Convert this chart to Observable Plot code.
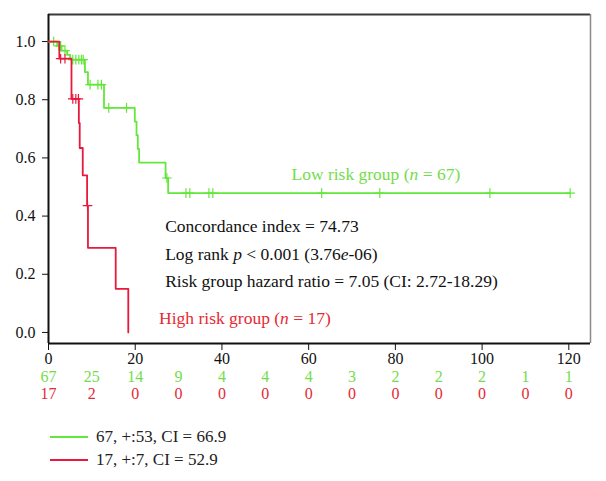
<!DOCTYPE html>
<html>
<head>
<meta charset="utf-8">
<script src="https://cdn.jsdelivr.net/npm/d3@7"></script>
<script src="https://cdn.jsdelivr.net/npm/@observablehq/plot@0.6"></script>
<style>
  html, body { margin: 0; padding: 0; background: white; }
  #wrap { width: 606px; height: 481px; position: relative; font-family: 'Liberation Serif', serif; }
  .leg { position: absolute; left: 50px; display: flex; align-items: center; font-size: 17px; color: #222; }
  .leg span.sw { display: inline-block; width: 38px; height: 0; border-top: 2px solid; margin-right: 8px; }
</style>
</head>
<body>
<div id="wrap"></div>
<script>
// ---- data ----
const lowTimes = [0, 2.0, 3.0, 4.3, 5.0, 8.4, 9.1, 12.8, 19.9, 20.3, 20.6, 20.9, 27.0, 27.6, 120.3];
const lowSurv  = [1.0, 0.985, 0.969, 0.954, 0.938, 0.895, 0.852, 0.772, 0.725, 0.678, 0.631, 0.584, 0.531, 0.479, 0.479];
const lowCensorTimes = [1.2, 2.4, 2.8, 3.8, 5.6, 6.3, 7.0, 7.6, 8.0, 9.6, 11.4, 12.2, 13.9, 18.0, 27.3, 31.7, 32.6, 37.0, 37.9, 63.0, 76.4, 101.8, 120.3];
const lowCensorSurv  = [1.0, 0.985, 0.985, 0.969, 0.938, 0.938, 0.938, 0.938, 0.938, 0.852, 0.852, 0.852, 0.772, 0.772, 0.531, 0.479, 0.479, 0.479, 0.479, 0.479, 0.479, 0.479, 0.479];

const highTimes = [0, 2.5, 5.3, 7.0, 7.2, 7.9, 8.9, 9.1, 15.5, 18.4];
const highSurv  = [1.0, 0.941, 0.803, 0.72, 0.634, 0.54, 0.436, 0.291, 0.150, 0.0];
const highCensorTimes = [2.8, 3.8, 5.6, 6.3, 6.9, 9.0];
const highCensorSurv  = [0.941, 0.941, 0.803, 0.803, 0.803, 0.436];

const xTicks = [0, 20, 40, 60, 80, 100, 120];
const yTicks = [0, 0.2, 0.4, 0.6, 0.8, 1.0];
const xDomain = [0, 125];
const yDomain = [-0.038, 1.093];

const riskTimes = [0, 10, 20, 30, 40, 50, 60, 70, 80, 90, 100, 110, 120];
const riskLow  = [67, 25, 14, 9, 4, 4, 4, 3, 2, 2, 2, 1, 1];
const riskHigh = [17, 2, 0, 0, 0, 0, 0, 0, 0, 0, 0, 0, 0];

const statLabels = [
  "Concordance index = 74.73",
  "Log rank p < 0.001 (3.76e-06)",
  "Risk group hazard ratio = 7.05 (CI: 2.72-18.29)"
];
const lowLabel = "Low risk group (n = 67)";
const highLabel = "High risk group (n = 17)";
const legendLabels = ["67, +:53, CI = 66.9", "17, +:7, CI = 52.9"];

// ---- styles ----
const GREEN = "#62e83a";
const GREEN_TXT = "#74dc4c";
const RED = "#e8193c";
const RED_TXT = "#e42a34";

const low = lowTimes.map((t, i) => ({t, s: lowSurv[i]}));
const high = highTimes.map((t, i) => ({t, s: highSurv[i]}));
const lowC = lowCensorTimes.map((t, i) => ({t, s: lowCensorSurv[i]}));
const highC = highCensorTimes.map((t, i) => ({t, s: highCensorSurv[i]}));
const riskL = riskTimes.map((t, i) => ({t, n: riskLow[i]}));
const riskH = riskTimes.map((t, i) => ({t, n: riskHigh[i]}));
const stats = statLabels.map((label, i) => ({label, t: 26.9, s: [0.364, 0.270, 0.177][i]}));

const plot = Plot.plot({
  width: 606, height: 418,
  marginLeft: 48, marginRight: 16, marginTop: 14, marginBottom: 75,
  style: {fontFamily: "'Liberation Serif', serif", fontSize: "16px", color: "#111", background: "white", overflow: "visible"},
  x: {domain: xDomain, ticks: xTicks, tickSize: 7, tickPadding: 2, label: null, tickFormat: d => String(d)},
  y: {domain: yDomain, ticks: yTicks, tickSize: 6, tickPadding: 7, label: null, tickFormat: d3.format(".1f")},
  marks: [
    Plot.ruleY([yDomain[1]], {stroke: "#3a3a3a", strokeWidth: 2}),
    Plot.ruleX([xDomain[1]], {stroke: "#8a8a8a", strokeWidth: 1.5}),
    Plot.ruleX([xDomain[0]], {stroke: "#111", strokeWidth: 2}),
    Plot.ruleY([yDomain[0]], {stroke: "#111", strokeWidth: 2}),
    Plot.line(low, {x: "t", y: "s", curve: "step-after", stroke: GREEN, strokeWidth: 1.8}),
    Plot.dot(lowC, {x: "t", y: "s", symbol: "plus", r: 3.2, stroke: GREEN, strokeWidth: 1.2}),
    Plot.line(high, {x: "t", y: "s", curve: "step-after", stroke: RED, strokeWidth: 1.8}),
    Plot.dot(highC, {x: "t", y: "s", symbol: "plus", r: 3.2, stroke: RED, strokeWidth: 1.2}),
    Plot.text([lowLabel], {x: 75.5, y: 0.543, text: d => d, fill: GREEN_TXT, fontSize: 17.5, className: "ann"}),
    Plot.text(stats, {x: "t", y: "s", text: "label", textAnchor: "start", fill: "#111", fontSize: 17.5, className: "ann"}),
    Plot.text([highLabel], {x: 25.5, y: 0.05, text: d => d, textAnchor: "start", fill: RED_TXT, fontSize: 17.5, className: "ann"}),
    Plot.text(riskL, {x: "t", y: yDomain[0], dy: 33, text: "n", fill: GREEN_TXT, fontSize: 16}),
    Plot.text(riskH, {x: "t", y: yDomain[0], dy: 50, text: "n", fill: RED_TXT, fontSize: 16})
  ]
});

// italicize statistical symbols (n, p, e)
d3.select(plot).selectAll("g.ann text").each(function() {
  let s = this.textContent.replace(/&/g, "&amp;").replace(/</g, "&lt;");
  s = s.replace(/\(n =/, '(<tspan font-style="italic">n</tspan> =')
       .replace(/rank p &lt;/, 'rank <tspan font-style="italic">p</tspan> &lt;')
       .replace(/(\d)e-(\d)/, '$1<tspan font-style="italic">e</tspan>-$2');
  this.innerHTML = s;
});

const wrap = document.getElementById("wrap");
wrap.appendChild(plot);
[[GREEN, legendLabels[0], 437], [RED, legendLabels[1], 460]].forEach(([c, txt, y]) => {
  const d = document.createElement("div");
  d.className = "leg";
  d.style.top = (y - 10) + "px";
  d.style.height = "20px";
  d.innerHTML = `<span class="sw" style="border-color:${c}"></span><span>${txt}</span>`;
  wrap.appendChild(d);
});
</script>
</body>
</html>
